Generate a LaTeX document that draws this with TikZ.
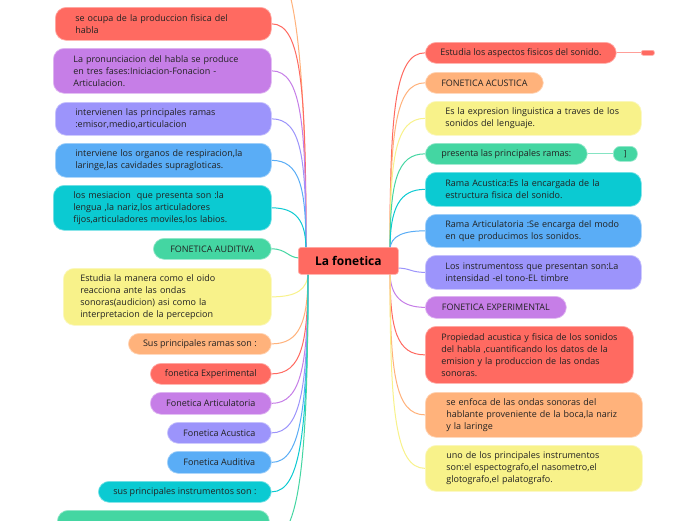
\documentclass[tikz,border=0pt]{standalone}
\usepackage{fontspec}
\setmainfont{Open Sans}
\usetikzlibrary{backgrounds}
\definecolor{mred}{HTML}{FF6A61}
\definecolor{morange}{HTML}{FFB27B}
\definecolor{myellow}{HTML}{F8F28A}
\definecolor{mgreen}{HTML}{44D6A2}
\definecolor{mteal}{HTML}{0BCAD2}
\definecolor{mblue}{HTML}{5AADF6}
\definecolor{mlav}{HTML}{9C94FB}
\definecolor{mpurple}{HTML}{C67EE7}
\definecolor{txt}{HTML}{222222}
\tikzset{
  box/.style={rounded corners=11pt, fill=#1, draw=#1!55!white, line width=0.7pt,
    text=txt, font=\fontsize{9}{12}\selectfont, inner sep=0pt, anchor=north west},
  ml/.style={text width=#1, align=left},
  conn/.style={draw=#1, line width=1pt},
}
\begin{document}
\begin{tikzpicture}[x=1pt,y=-1pt]
\useasboundingbox (0,0) rectangle (696,520);

% centre
\node[box=mred, rounded corners=3pt, minimum width=100pt, minimum height=27pt,
  font=\fontsize{12}{14}\selectfont\bfseries, text=black] (c) at (298,247) {La fonetica};
\coordinate (cLt) at (306,250);
\coordinate (cLm) at (300,258);
\coordinate (cLb) at (308,272);
\coordinate (cRt) at (390,250);
\coordinate (cRm) at (396,268);
\coordinate (cRb) at (390,272);
\coordinate (offtop) at (271,-35);

% left side
\node[box=mred, minimum width=216pt, minimum height=33pt, ml=176pt] (l1) at (55,7)
  {se ocupa de la produccion fisica del\\habla};
\node[box=mpurple, minimum width=218pt, minimum height=45pt, ml=178pt] (l2) at (53,48)
  {La pronunciacion del habla se produce\\en tres fases:Iniciacion-Fonacion -\\Articulacion.};
\node[box=mlav, minimum width=216pt, minimum height=33pt, ml=176pt] (l3) at (55,102)
  {intervienen las principales ramas\\:emisor,medio,articulacion};
\node[box=mblue, minimum width=216pt, minimum height=34pt, ml=176pt] (l4) at (55,143)
  {interviene los organos de respiracion,la\\laringe,las cavidades supragloticas.};
\node[box=mteal, minimum width=218pt, minimum height=45pt, ml=178pt] (l5) at (53,185)
  {los mesiacion\ \ que presenta son :la\\lengua ,la nariz,los articuladores\\fijos,articuladores moviles,los labios.};
\node[box=mgreen, minimum width=118pt, minimum height=21pt] (l6) at (153,238)
  {FONETICA AUDITIVA};
\node[box=myellow, minimum width=208pt, minimum height=57pt, ml=174pt] (l7) at (63,268)
  {Estudia la manera como el oido\\reacciona ante las ondas\\sonoras(audicion) asi como la\\interpretacion de la percepcion};
\node[box=morange, minimum width=143pt, minimum height=21pt] (l8) at (128,333)
  {Sus principales ramas son :};
\node[box=mred, minimum width=121pt, minimum height=21pt] (l9) at (150,363)
  {fonetica Experimental};
\node[box=mpurple, minimum width=121pt, minimum height=22pt] (l10) at (150,392)
  {Fonetica Articulatoria};
\node[box=mlav, minimum width=104pt, minimum height=21pt] (l11) at (167,422)
  {Fonetica Acustica};
\node[box=mblue, minimum width=104pt, minimum height=22pt] (l12) at (167,451)
  {Fonetica Auditiva};
\node[box=mteal, minimum width=173pt, minimum height=21pt] (l13) at (98,481)
  {sus principales instrumentos son :};
\node[box=mgreen, minimum width=212pt, minimum height=60pt] (l14) at (57,510) {};

% right side
\node[box=mred, minimum width=191pt, minimum height=21pt] (r1) at (425,42)
  {Estudia los aspectos fisicos del sonido.};
\node[box=mred, rounded corners=2pt, minimum width=13pt, minimum height=5pt] (r1s) at (641,50) {};
\node[box=morange, minimum width=118pt, minimum height=21pt] (r2) at (425,72)
  {FONETICA ACUSTICA};
\node[box=myellow, minimum width=216pt, minimum height=34pt, ml=176pt] (r3) at (425,101)
  {Es la expresion linguistica a traves de los\\sonidos del lenguaje.};
\node[box=mgreen, minimum width=162pt, minimum height=21pt] (r4) at (425,143)
  {presenta las principales ramas:};
\node[box=mgreen, rounded corners=7pt, minimum width=24pt, minimum height=15pt,
  font=\fontsize{8}{9}\selectfont] (r4s) at (613,146) {]};
\node[box=mteal, minimum width=216pt, minimum height=34pt, ml=176pt] (r5) at (425,172)
  {Rama Acustica:Es la encargada de la\\estructura fisica del sonido.};
\node[box=mblue, minimum width=216pt, minimum height=33pt, ml=176pt] (r6) at (425,214)
  {Rama Articulatoria :Se encarga del modo\\en que producimos los sonidos.};
\node[box=mlav, minimum width=216pt, minimum height=34pt, ml=176pt] (r7) at (425,255)
  {Los instrumentoss que presentan son:La\\intensidad -el tono-EL timbre};
\node[box=mpurple, minimum width=141pt, minimum height=22pt] (r8) at (425,296)
  {FONETICA EXPERIMENTAL};
\node[box=mred, minimum width=208pt, minimum height=57pt, ml=176pt] (r9) at (425,326)
  {\mbox{Propiedad acustica y fisica de los sonidos}\\del habla ,cuantificando los datos de la\\emision y la produccion de las ondas\\sonoras.};
\node[box=morange, minimum width=217pt, minimum height=45pt, ml=175pt] (r10) at (425,392)
  {se enfoca de las ondas sonoras del\\hablante proveniente de la boca,la nariz\\y la laringe};
\node[box=myellow, minimum width=217pt, minimum height=46pt, ml=175pt] (r11) at (425,445)
  {uno de los principales instrumentos\\son:el espectografo,el nasometro,el\\glotografo,el palatografo.};

\begin{pgfonlayer}{background}
\fill[white] (0,0) rectangle (696,520);
% left connectors
\draw[conn=morange] (offtop) .. controls +(22,0) and +(0,-200) .. (cLt);
\draw[conn=mred] (l1.east) .. controls +(30,0) and +(0,-160) .. (cLt);
\draw[conn=mpurple] (l2.east) .. controls +(30,0) and +(0,-125) .. (cLt);
\draw[conn=mlav] (l3.east) .. controls +(30,0) and +(0,-92) .. (cLt);
\draw[conn=mblue] (l4.east) .. controls +(28,0) and +(0,-63) .. (cLt);
\draw[conn=mteal] (l5.east) .. controls +(24,0) and +(0,-30) .. (cLt);
\draw[conn=mgreen] (l6.east) .. controls +(15,0) and +(-12,0) .. (cLm);
\draw[conn=myellow] (l7.east) .. controls +(24,0) and +(0,18) .. (cLb);
\draw[conn=morange] (l8.east) .. controls +(28,0) and +(0,50) .. (cLb);
\draw[conn=mred] (l9.east) .. controls +(30,0) and +(0,71) .. (cLb);
\draw[conn=mpurple] (l10.east) .. controls +(30,0) and +(0,92) .. (cLb);
\draw[conn=mlav] (l11.east) .. controls +(30,0) and +(0,112) .. (cLb);
\draw[conn=mblue] (l12.east) .. controls +(30,0) and +(0,133) .. (cLb);
\draw[conn=mteal] (l13.east) .. controls +(30,0) and +(0,154) .. (cLb);
\draw[conn=mgreen] (l14.east) .. controls +(30,0) and +(0,188) .. (cLb);
% right connectors
\draw[conn=mred] (cRt) .. controls +(0,-138) and +(-30,0) .. (r1.west);
\draw[conn=morange] (cRt) .. controls +(0,-117) and +(-30,0) .. (r2.west);
\draw[conn=myellow] (cRt) .. controls +(0,-92) and +(-30,0) .. (r3.west);
\draw[conn=mgreen] (cRt) .. controls +(0,-68) and +(-28,0) .. (r4.west);
\draw[conn=mteal] (cRt) .. controls +(0,-43) and +(-25,0) .. (r5.west);
\draw[conn=mblue] (cRt) .. controls +(0,-15) and +(-20,0) .. (r6.west);
\draw[conn=mlav] (cRm) .. controls +(15,0) and +(-15,0) .. (r7.west);
\draw[conn=mpurple] (cRb) .. controls +(0,25) and +(-22,0) .. (r8.west);
\draw[conn=mred] (cRb) .. controls +(0,58) and +(-28,0) .. (r9.west);
\draw[conn=morange] (cRb) .. controls +(0,100) and +(-30,0) .. (r10.west);
\draw[conn=myellow] (cRb) .. controls +(0,137) and +(-30,0) .. (r11.west);
\draw[conn=mred!65!white] (r1.east) -- (r1s.west);
\draw[conn=mgreen!65!white] (r4.east) -- (r4s.west);
\end{pgfonlayer}
\end{tikzpicture}
\end{document}
